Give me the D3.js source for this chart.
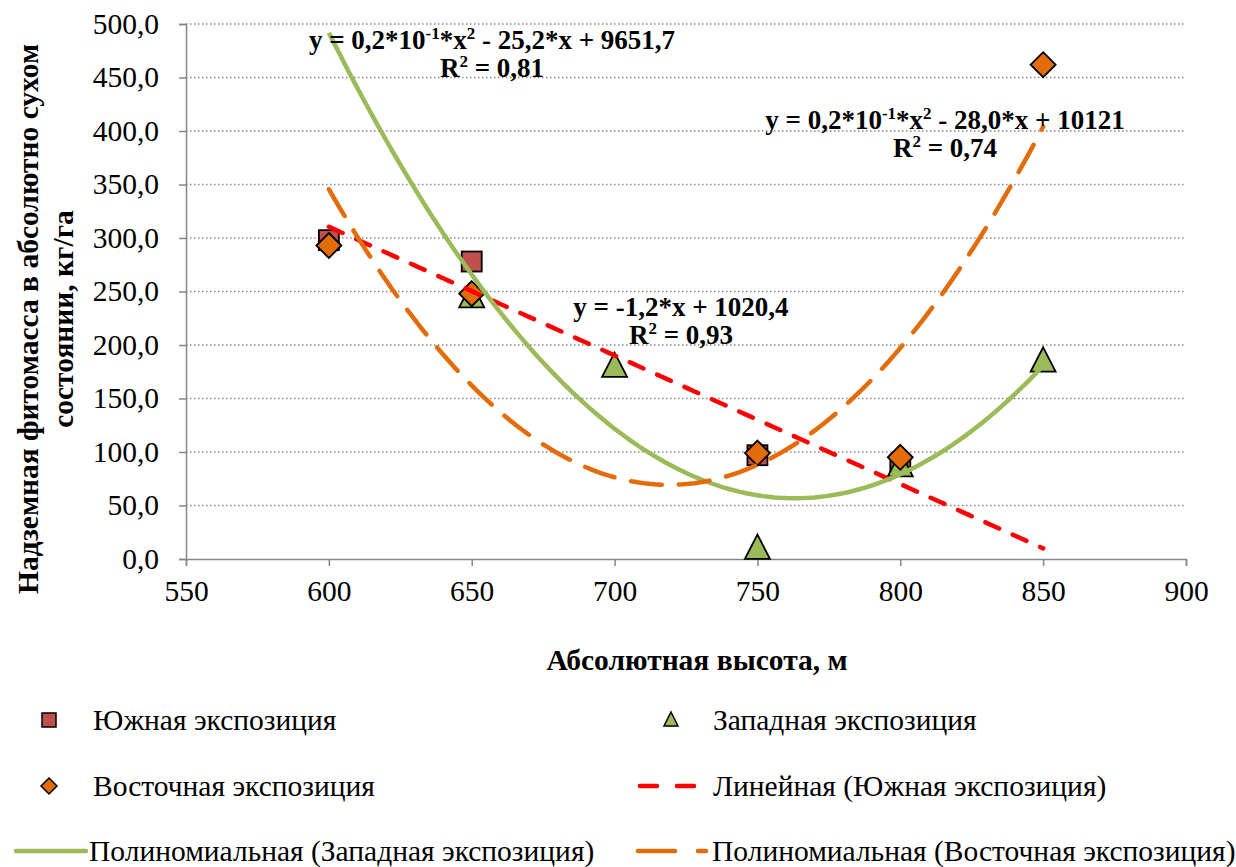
<!DOCTYPE html>
<html><head><meta charset="utf-8">
<script src="https://cdn.jsdelivr.net/npm/d3@7"></script>
<style>body{margin:0;background:#fff}svg,text{font-family:"Liberation Serif","Times New Roman",serif}</style>
</head><body>
<svg id="chart" width="1236" height="867" font-family="Liberation Serif"></svg>
<script>
// ---- data ----
const southX = [600, 650, 750, 800];
const southY = [298, 278, 97, 88];
const westX = [650, 700, 750, 800, 850];
const westY = [245, 180, 10, 87, 185];
const eastX = [600, 650, 750, 800, 850];
const eastY = [293, 248, 99, 95, 462];
const yTicks = [0, 50, 100, 150, 200, 250, 300, 350, 400, 450, 500];
const xTicks = [550, 600, 650, 700, 750, 800, 850, 900];
const trendRange = [600, 850];
const seriesNames = ["Южная экспозиция", "Западная экспозиция", "Восточная экспозиция",
  "Линейная (Южная экспозиция)", "Полиномиальная (Западная экспозиция)", "Полиномиальная (Восточная экспозиция)"];

const svg = d3.select("#chart");
const x = d3.scaleLinear().domain([550, 900]).range([186, 1186]);
const y = d3.scaleLinear().domain([0, 500]).range([559, 24]);
const fmt = v => d3.format(".1f")(v).replace(".", ",");
const gridC = "#868686";
const FONT = "Liberation Serif";

// gridlines
svg.append("g").selectAll("line").data(yTicks.filter(d => d > 0)).join("line")
  .attr("x1", x(550)).attr("x2", x(900)).attr("y1", d => y(d)).attr("y2", d => y(d))
  .attr("stroke", gridC).attr("stroke-width", 1.5).attr("stroke-dasharray", "1.5,2.5");

// axes
const yAxis = svg.append("g").attr("transform", `translate(${x(550)},0)`)
  .call(d3.axisLeft(y).tickValues(yTicks).tickFormat(fmt).tickSize(7).tickPadding(20));
const xAxis = svg.append("g").attr("transform", `translate(0,${y(0)})`)
  .call(d3.axisBottom(x).tickValues(xTicks).tickFormat(d3.format("d")).tickSize(7).tickPadding(14));
[yAxis, xAxis].forEach(g => {
  g.attr("font-family", FONT).attr("font-size", 29.5);
  g.select(".domain").attr("stroke", gridC).attr("stroke-width", 1.5);
  g.selectAll(".tick line").attr("stroke", gridC).attr("stroke-width", 1.5);
  g.selectAll(".tick text").attr("fill", "#000");
});

// axis titles
svg.append("text").attr("x", 697).attr("y", 670).attr("text-anchor", "middle")
  .attr("font-size", 29.5).attr("font-weight", "bold").text("Абсолютная высота, м");
const yt = svg.append("text").attr("transform", "translate(0,319) rotate(-90)")
  .attr("text-anchor", "middle").attr("font-size", 29.5).attr("font-weight", "bold");
yt.append("tspan").attr("x", 0).attr("y", 38).text("Надземная фитомасса в абсолютно сухом");
yt.append("tspan").attr("x", 0).attr("y", 73).text("состоянии, кг/га");

// polynomial least-squares fit
function polyfit(xs, ys, deg) {
  const n = deg + 1;
  const A = Array.from({length: n}, () => new Array(n + 1).fill(0));
  xs.forEach((xv, k) => {
    for (let i = 0; i < n; i++) {
      for (let j = 0; j < n; j++) A[i][j] += Math.pow(xv, i + j);
      A[i][n] += ys[k] * Math.pow(xv, i);
    }
  });
  for (let i = 0; i < n; i++) {
    let p = i;
    for (let r = i + 1; r < n; r++) if (Math.abs(A[r][i]) > Math.abs(A[p][i])) p = r;
    [A[i], A[p]] = [A[p], A[i]];
    for (let r = 0; r < n; r++) if (r !== i) {
      const f = A[r][i] / A[i][i];
      for (let c = i; c <= n; c++) A[r][c] -= f * A[i][c];
    }
  }
  return A.map((row, i) => row[n] / row[i]);
}
const evalPoly = (c, xv) => c.reduce((s, ci, i) => s + ci * Math.pow(xv, i), 0);

// markers
const markerG = svg.append("g");
function squares(xs, ys, s) {
  markerG.selectAll(null).data(xs).join("rect")
    .attr("x", (d) => x(d) - s / 2).attr("y", (d, i) => y(ys[i]) - s / 2)
    .attr("width", s).attr("height", s).attr("fill", "#C0504D").attr("stroke", "#000").attr("stroke-width", 1.8);
}
function triangles(xs, ys, s) {
  markerG.selectAll(null).data(xs).join("path")
    .attr("d", (d, i) => { const cx = x(d), cy = y(ys[i]);
      return `M${cx},${cy - s * 0.55}L${cx + s / 2},${cy + s * 0.42}L${cx - s / 2},${cy + s * 0.42}Z`; })
    .attr("fill", "#9BBB59").attr("stroke", "#000").attr("stroke-width", 1.8);
}
function diamonds(xs, ys, s) {
  markerG.selectAll(null).data(xs).join("path")
    .attr("d", (d, i) => { const cx = x(d), cy = y(ys[i]);
      return `M${cx},${cy - s / 2}L${cx + s / 2},${cy}L${cx},${cy + s / 2}L${cx - s / 2},${cy}Z`; })
    .attr("fill", "#E36C09").attr("stroke", "#000").attr("stroke-width", 1.8);
}
squares(southX, southY, 20);
triangles(westX, westY, 25);
diamonds(eastX, eastY, 25);

// trendlines (least-squares fits of the series above)
const samples = d3.range(trendRange[0], trendRange[1] + 0.01, 2);
const line = d3.line().x(d => x(d[0])).y(d => y(d[1]));
const cS = polyfit(southX, southY, 1);
const cW = polyfit(westX, westY, 2);
const cE = polyfit(eastX, eastY, 2);
const tl = svg.append("g").attr("fill", "none").attr("stroke-width", 4.5);
tl.append("path").attr("d", line(samples.map(v => [v, evalPoly(cS, v)])))
  .attr("stroke", "#FF0000").attr("stroke-dasharray", "15,15").attr("stroke-linecap", "round");
tl.append("path").attr("d", line(samples.map(v => [v, evalPoly(cW, v)])))
  .attr("stroke", "#9BBB59");
tl.append("path").attr("d", line(samples.map(v => [v, evalPoly(cE, v)])))
  .attr("stroke", "#E36C09").attr("stroke-dasharray", "31,17").attr("stroke-linecap", "round");

// equations
function eq(cx, cy, parts, r2) {
  const t = svg.append("text").attr("x", cx).attr("y", cy).attr("text-anchor", "middle")
    .attr("font-size", 27).attr("font-weight", "bold");
  parts.forEach(p => {
    if (p.sup) t.append("tspan").attr("font-size", 17).attr("dy", -10).text(p.sup);
    else t.append("tspan").attr("dy", p.after ? 10 : 0).text(p.t);
  });
  const r = svg.append("text").attr("x", cx).attr("y", cy + 28).attr("text-anchor", "middle")
    .attr("font-size", 27).attr("font-weight", "bold");
  r.append("tspan").text("R");
  r.append("tspan").attr("font-size", 17).attr("dy", -10).text("2");
  r.append("tspan").attr("dy", 10).text(" = " + r2);
}
eq(492, 49, [{t: "y = 0,2*10"}, {sup: "-1"}, {t: "*x", after: true}, {sup: "2"}, {t: " - 25,2*x + 9651,7", after: true}], "0,81");
eq(945, 129, [{t: "y = 0,2*10"}, {sup: "-1"}, {t: "*x", after: true}, {sup: "2"}, {t: " - 28,0*x + 10121", after: true}], "0,74");
eq(681, 316, [{t: "y = -1,2*x + 1020,4"}], "0,93");

// legend
const lg = svg.append("g");
const rows = [720, 786, 851];
function ltext(xp, yp, s) {
  lg.append("text").attr("x", xp).attr("y", yp + 10).attr("font-size", 29.5).text(s);
}
lg.append("rect").attr("x", 42).attr("y", rows[0] - 7).attr("width", 14).attr("height", 14)
  .attr("fill", "#C0504D").attr("stroke", "#000").attr("stroke-width", 1.5);
ltext(93, rows[0], seriesNames[0]);
lg.append("path").attr("d", `M671,${rows[0] - 8}L678,${rows[0] + 6}L664,${rows[0] + 6}Z`)
  .attr("fill", "#9BBB59").attr("stroke", "#000").attr("stroke-width", 1.5);
ltext(713, rows[0], seriesNames[1]);
lg.append("path").attr("d", `M49,${rows[1] - 8}L57,${rows[1]}L49,${rows[1] + 8}L41,${rows[1]}Z`)
  .attr("fill", "#E36C09").attr("stroke", "#000").attr("stroke-width", 1.5);
ltext(93, rows[1], seriesNames[2]);
lg.append("line").attr("x1", 640).attr("x2", 704).attr("y1", rows[1]).attr("y2", rows[1])
  .attr("stroke", "#FF0000").attr("stroke-width", 4.5).attr("stroke-dasharray", "17,20").attr("stroke-linecap", "round");
ltext(713, rows[1], seriesNames[3]);
lg.append("line").attr("x1", 16).attr("x2", 86).attr("y1", rows[2]).attr("y2", rows[2])
  .attr("stroke", "#9BBB59").attr("stroke-width", 4.5).attr("stroke-linecap", "round");
ltext(89, rows[2], seriesNames[4]);
lg.append("line").attr("x1", 638).attr("x2", 706).attr("y1", rows[2]).attr("y2", rows[2])
  .attr("stroke", "#E36C09").attr("stroke-width", 4.5).attr("stroke-dasharray", "37,23").attr("stroke-linecap", "round");
ltext(712, rows[2], seriesNames[5]);
</script>
</body></html>
